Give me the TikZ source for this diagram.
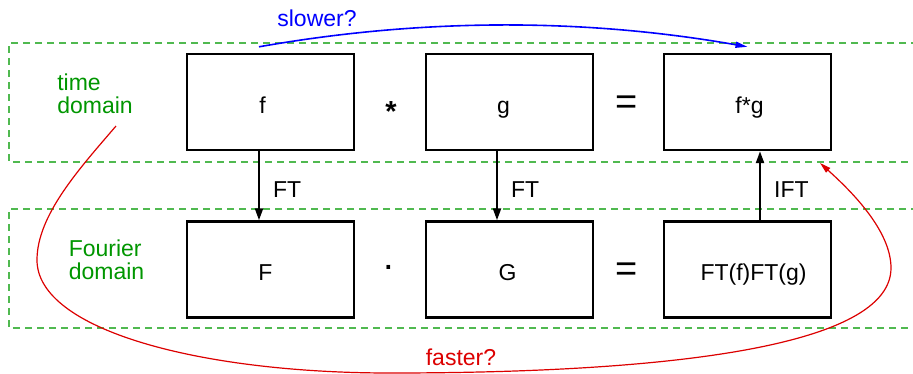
\documentclass[tikz,border=0pt]{standalone}
\usepackage{fontspec}
\setmainfont{Liberation Sans}
\usetikzlibrary{arrows.meta}
\definecolor{dgreen}{RGB}{0,150,0}
\definecolor{lgreen}{RGB}{80,185,80}
\definecolor{myred}{RGB}{220,0,0}
\definecolor{myblue}{RGB}{0,0,255}
\newcommand\mvtext[2]{\kern#1pt #2\kern-#1pt}
\begin{document}
\begin{tikzpicture}[x=1pt,y=-1pt,
  box/.style={draw, line width=2.4pt, minimum width=167pt, minimum height=96pt,
    inner sep=0pt, font=\fontsize{23}{23}\selectfont, text height=22pt, text depth=0pt},
  domainframe/.style={draw=lgreen, line width=1.4pt, dash pattern=on 7pt off 5pt},
  domainlabel/.style={text=dgreen, align=left, inner sep=0pt, font=\fontsize{23}{23}\selectfont},
  tflabel/.style={anchor=west, inner sep=0pt, xshift=13pt, yshift=-4pt,
    font=\fontsize{23}{23}\selectfont, text height=16pt, text depth=0pt},
  tfarrow/.style={line width=2.2pt, -{Triangle[length=12pt,width=8pt]}},
  opsym/.style={inner sep=0pt, font=\fontsize{38}{38}\selectfont},
  starsym/.style={inner sep=0pt, anchor=base, font=\fontsize{29}{29}\selectfont\bfseries},
  curvelabel/.style={inner sep=0pt, font=\fontsize{23}{23}\selectfont, text height=16pt, text depth=0pt}
]
\useasboundingbox (0,0) rectangle (913,373);
\clip (0,0) rectangle (913,373);

% dashed domain frames (open to the right)
\draw[domainframe] (930,43) -- (9,43) -- (9,162) -- (930,162);
\draw[domainframe] (930,209) -- (9,209) -- (9,328) -- (930,328);

% domain labels
\node[domainlabel] (td) at (95,94) {time\\domain};
\node[domainlabel] (fd) at (106.5,260) {Fourier\\domain};

% boxes
\node[box] (f)  at (270.5,102) {\mvtext{-8}{f}};
\node[box] (g)  at (509.5,102) {\mvtext{-6}{g}};
\node[box] (fg) at (747.5,102) {\mvtext{2}{f*g}};
\node[box] (F)  at (270.5,269.5) {\mvtext{-5}{F}};
\node[box] (G)  at (509.5,269.5) {\mvtext{-2}{G}};
\node[box] (FG) at (747.5,269.5) {\mvtext{6}{FT(f)FT(g)}};

% operators
\node[starsym] (star) at (391,121) {*};
\node[opsym] (eq1) at (627,105) {=};
\node[opsym] (dot) at (389,267) {.};
\node[opsym] (eq2) at (627,272) {=};

% transforms
\draw[tfarrow] ([xshift=-11.5pt]f.south) -- ([xshift=-11.5pt]F.north)
  node[tflabel, midway] (ft1) {FT};
\draw[tfarrow] ([xshift=-12.5pt]g.south) -- ([xshift=-12.5pt]G.north)
  node[tflabel, midway] (ft2) {FT};
\draw[tfarrow] ([xshift=12.5pt]FG.north) -- ([xshift=12.5pt]fg.south)
  node[tflabel, midway] (ift) {IFT};

% slower? (blue)
\draw[myblue, line width=1.6pt, -{Triangle[length=12pt,width=6pt]}]
  ([xshift=-11.5pt,yshift=6pt]f.north) .. controls (422,18) and (584,18) .. ([yshift=6pt]fg.north);
\node[curvelabel, text=myblue] (slow) at (317,18) {slower?};

% faster? (red)
\coordinate (rs) at (116,126);
\coordinate (re) at (820,163);
\draw[myred, line width=1.2pt, -{Triangle[length=11pt,width=6pt]}]
  (rs) .. controls (80,168) and (37,215) .. (37,260)
       .. controls (37,330) and (200,373) .. (390,373)
       .. controls (620,373) and (891,355) .. (891,268)
       .. controls (891,230) and (850,190) .. (re);
\node[curvelabel, text=myred] (fast) at (461,357) {faster?};
\end{tikzpicture}
\end{document}
